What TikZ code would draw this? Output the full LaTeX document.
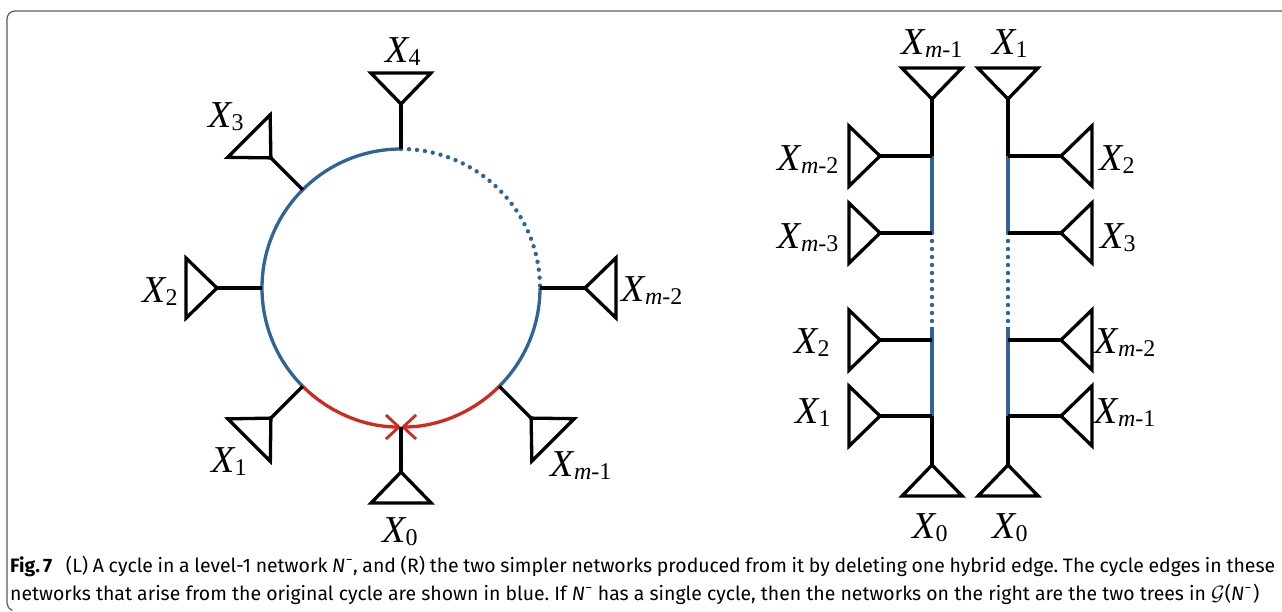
\documentclass[tikz,border=0pt]{standalone}
\usepackage{fontspec}
\setmainfont{Liberation Serif}
\newfontfamily\capfont{Fira Sans}
\usetikzlibrary{arrows.meta,calc}
\definecolor{cycblue}{RGB}{46,100,152}
\definecolor{cycred}{RGB}{210,40,30}
\definecolor{framegray}{RGB}{90,90,90}
\newcommand\Xl[1]{\fontsize{38}{40}\selectfont\textit{X}\kern-1pt\raisebox{-3pt}{\fontsize{24}{25}\selectfont #1}}
\newcommand\mi[1]{\textit{m}-#1}
\newcommand\leaftri[2]{\draw[leafl] (#1) -- ++({#2+44}:43) -- ++({#2-90}:60) -- cycle;}
\newcommand\Nm{\textit{N}\textsuperscript{\kern0.5pt−}}
\newcommand\capone{\textbf{Fig.\,7}\hspace{9pt} (L) A cycle in a level-1 network \Nm, and (R) the two simpler networks produced from it by deleting one hybrid edge. The cycle edges in these}
\newcommand\captwo{networks that arise from the original cycle are shown in blue. If \Nm{} has a single cycle, then the networks on the right are the two trees in $\mathcal{G}$(\Nm\kern1pt)}
\newlength\capw
\begin{document}
\frenchspacing
\settowidth\capw{\capfont\fontsize{18}{20}\selectfont\captwo}
\pgfmathsetmacro\capfs{1248/\capw*18}
\begin{tikzpicture}[x=1pt,y=-1pt,
  edge/.style={line width=3.3pt,black},
  leafl/.style={line width=3.3pt,black,line join=miter},
  cyc/.style={line width=3.3pt,cycblue},
  cycdot/.style={line width=4.4pt,cycblue,line cap=round,dash pattern=on 0pt off 8pt},
  hyb/.style={line width=3.3pt,cycred,-{Straight Barb[length=13pt,width=24pt,line width=2.8pt]}},
  lab/.style={anchor=base,inner sep=0pt}]
\useasboundingbox (0,0) rectangle (1282,611);
% frame
\draw[framegray,line width=1.2pt] (7,603) -- (7,19) arc[start angle=180,end angle=270,radius=8] -- (1282,11);
\draw[framegray,line width=1.2pt] (7,603) arc[start angle=180,end angle=110,radius=8];
% ---------- left: cycle ----------
\coordinate (c) at (401,288);
\foreach \n/\t in {4/270,3/225,2/180,1/135,0/90,m1/45,m2/0}{
  \coordinate (a\n) at ($(c)+(\t:139)$);
  \coordinate (p\n) at ($(c)+(\t:184)$);
}
\draw[cycdot] (a4) arc[start angle=270,end angle=360,radius=139];
\draw[cyc] (a4) arc[start angle=270,end angle=135,radius=139];
\draw[cyc] (am2) arc[start angle=0,end angle=45,radius=139];
\draw[hyb] (a1) arc[start angle=135,end angle=90,radius=139];
\draw[hyb] (am1) arc[start angle=45,end angle=90,radius=139];
\foreach \n/\t in {4/270,3/225,2/180,1/135,0/90,m1/45,m2/0}{
  \draw[edge] (a\n) -- (p\n);
  \leaftri{p\n}{\t}
}
\node[lab] (lx4) at (403,62) {\Xl{4}};
\node[lab] (lx3) at (226,127) {\Xl{3}};
\node[lab] (lx2) at (160,302) {\Xl{2}};
\node[lab] (lx1) at (229,472) {\Xl{1}};
\node[lab] (lx0) at (400,542) {\Xl{0}};
\node[lab] (lxm1) at (581,476) {\Xl{\mi{1}}};
\node[lab] (lxm2) at (652,301) {\Xl{\mi{2}}};
% ---------- right: two trees ----------
\foreach \tr/\x in {L/932,R/1008}{
  \coordinate (\tr t) at (\x,99);
  \coordinate (\tr b1) at (\x,156);
  \coordinate (\tr b2) at (\x,233);
  \coordinate (\tr d) at (\x,327);
  \coordinate (\tr b3) at (\x,340);
  \coordinate (\tr b4) at (\x,416);
  \coordinate (\tr bot) at (\x,465);
  \draw[edge] (\tr t) -- (\tr b1);
  \draw[cyc] (\tr b1) -- (\tr b2);
  \draw[cycdot] (\tr b2) -- (\tr d);
  \draw[cyc] (\tr d) -- (\tr b4);
  \draw[edge] (\tr b4) -- (\tr bot);
  \leaftri{\tr t}{270}
  \leaftri{\tr bot}{90}
}
\foreach \k in {1,2,3,4}{
  \coordinate (Lq\k) at ($(Lb\k)+(-52,0)$);
  \coordinate (Rq\k) at ($(Rb\k)+(53,0)$);
  \draw[edge] (Lb\k) -- (Lq\k);
  \draw[edge] (Rb\k) -- (Rq\k);
  \leaftri{Lq\k}{180}
  \leaftri{Rq\k}{0}
}
\node[lab] (rxm1) at (932,54) {\Xl{\mi{1}}};
\node[lab] (rx1) at (1010,54) {\Xl{1}};
\node[lab] (rlxm2) at (808,170) {\Xl{\mi{2}}};
\node[lab] (rlxm3) at (808,248) {\Xl{\mi{3}}};
\node[lab] (rlx2) at (812,353) {\Xl{2}};
\node[lab] (rlx1) at (813,423) {\Xl{1}};
\node[lab] (rrx2) at (1117,170) {\Xl{2}};
\node[lab] (rrx3) at (1118,248) {\Xl{3}};
\node[lab] (rrxm2) at (1125,353) {\Xl{\mi{2}}};
\node[lab] (rrxm1) at (1125,423) {\Xl{\mi{1}}};
\node[lab] (rx0a) at (930,538) {\Xl{0}};
\node[lab] (rx0b) at (1010,538) {\Xl{0}};
% ---------- caption ----------
\node[anchor=base west,inner sep=0pt] (cap1) at (10,572) {\capfont\fontsize{\capfs}{20}\selectfont\makebox[1265pt][s]{\capone}};
\node[anchor=base west,inner sep=0pt] (cap2) at (10,600) {\capfont\fontsize{\capfs}{20}\selectfont\captwo};
\end{tikzpicture}
\end{document}
